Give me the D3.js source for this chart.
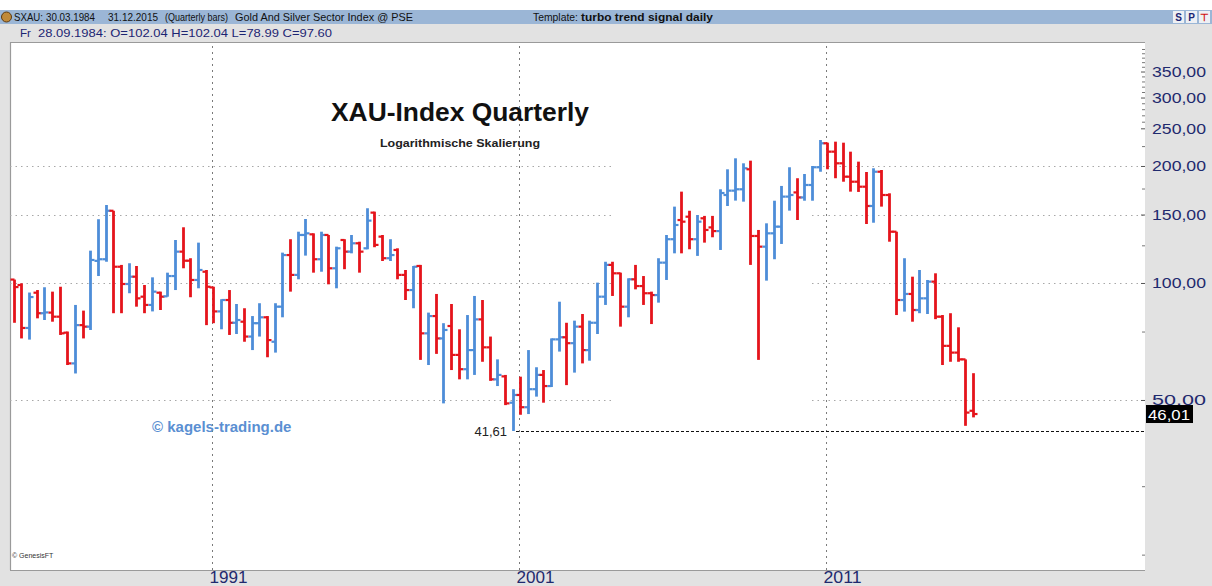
<!DOCTYPE html>
<html><head><meta charset="utf-8">
<script src="https://cdn.jsdelivr.net/npm/d3@7"></script>
<style>
body{margin:0;background:#e2e2e2;}
svg{display:block;}
</style>
</head><body>
<svg id="c" width="1212" height="586"></svg>
<script>
// ---- data (quarterly bars, first bar = 1984 Q3) ----
const startYear = 1984, startQuarter = 3;
const open = [
 102.04, 98.8, 76.6, 94.4, 83.6, 83.9, 81.9, 74.5, 62.1, 77.9,
 77.2, 114.0, 115.1, 153.4, 110.1, 99.4, 103.8, 92.2, 87.8, 94.4,
 92.4, 104.2, 120.4, 114.1, 101.8, 106.9, 97.4, 84.5, 90.4, 79.0,
 79.5, 72.8, 78.8, 81.6, 70.6, 86.9, 118.0, 104.9, 132.9, 133.4,
 115.1, 132.9, 109.1, 129.0, 120.4, 126.5, 122.8, 151.7, 131.6, 115.8,
 121.6, 104.9, 95.9, 110.6, 74.2, 82.2, 72.0, 77.5, 65.3, 60.0,
 67.2, 80.6, 68.3, 56.5, 57.5, 49.2, 51.5, 47.9, 53.3, 58.0,
 54.3, 71.6, 72.5, 70.0, 77.2, 67.2, 79.0, 92.2, 111.3, 105.9,
 86.9, 102.2, 98.2, 94.1, 93.1, 112.8, 129.6, 145.2, 148.1, 129.6,
 146.7, 139.0, 136.0, 168.4, 172.8, 174.2, 196.1, 132.1, 124.0, 134.2,
 139.6, 166.8, 171.0, 166.0, 178.7, 198.5, 228.8, 217.7, 203.2, 187.7,
 182.2, 176.9, 157.8, 193.3, 168.4, 135.5, 90.4, 93.7, 85.2, 91.3,
 100.8, 81.9, 68.9, 66.2, 63.6, 46.9];
const high = [
 102.04, 99.8, 94.5, 95.9, 97.5, 95.0, 97.8, 75.0, 87.8, 84.9,
 121.1, 145.9, 158.7, 153.4, 111.3, 112.4, 110.6, 98.8, 103.4, 95.0,
 106.3, 129.0, 139.1, 115.8, 127.0, 108.0, 97.8, 90.8, 95.9, 88.3,
 86.1, 82.2, 88.7, 82.2, 88.7, 119.7, 129.6, 135.5, 146.1, 134.2,
 135.5, 132.9, 124.0, 129.6, 132.9, 127.7, 155.7, 152.6, 132.9, 129.6,
 122.8, 108.0, 110.6, 111.3, 83.9, 93.7, 78.8, 88.3, 76.0, 82.7,
 92.6, 90.4, 72.8, 63.6, 58.0, 53.3, 57.4, 67.2, 60.7, 59.7,
 72.0, 89.5, 79.0, 80.0, 83.2, 80.0, 100.2, 113.4, 113.4, 106.3,
 102.8, 111.3, 104.2, 95.0, 115.8, 132.9, 157.2, 171.8, 153.4, 149.6,
 148.8, 148.8, 174.2, 196.1, 209.3, 203.2, 206.4, 136.9, 142.4, 162.8,
 177.7, 198.5, 186.0, 190.7, 200.0, 233.3, 229.6, 231.0, 229.6, 217.7,
 205.2, 193.0, 197.3, 195.3, 170.1, 135.5, 115.8, 103.8, 108.0, 101.8,
 105.9, 82.7, 83.6, 76.9, 63.6, 58.6];
const low = [
 78.99, 72.0, 71.5, 81.1, 80.3, 79.5, 73.5, 61.5, 58.5, 72.0,
 75.7, 104.2, 113.4, 83.6, 83.6, 94.1, 86.9, 83.6, 84.5, 85.2,
 92.2, 95.9, 109.1, 91.9, 96.9, 77.9, 78.8, 76.0, 73.5, 73.9,
 70.6, 67.2, 72.8, 64.4, 66.2, 81.6, 95.0, 102.2, 117.6, 106.3,
 106.9, 99.2, 96.9, 108.5, 119.2, 106.3, 122.1, 123.6, 113.9, 113.9,
 102.2, 90.4, 86.1, 63.4, 61.5, 65.7, 49.0, 59.7, 56.5, 56.5,
 58.0, 62.7, 56.0, 54.3, 48.5, 41.61, 45.8, 46.0, 51.0, 49.2,
 54.0, 66.6, 54.6, 58.8, 62.1, 63.1, 73.9, 87.8, 92.6, 77.2,
 81.6, 96.3, 87.8, 78.4, 89.0, 101.8, 119.2, 119.2, 122.1, 117.4,
 127.0, 131.1, 121.6, 157.8, 162.9, 161.9, 111.3, 63.4, 101.4, 115.1,
 126.0, 153.5, 145.2, 162.8, 162.8, 193.3, 196.1, 186.0, 182.2, 171.8,
 171.5, 141.8, 142.9, 157.2, 127.7, 82.7, 84.4, 79.5, 83.6, 83.2,
 80.7, 61.5, 62.7, 62.7, 42.9, 45.1];
const close = [
 97.60, 76.6, 92.0, 83.6, 84.0, 81.9, 74.2, 62.1, 77.9, 77.2,
 114.6, 115.1, 153.4, 110.1, 99.4, 103.8, 91.3, 87.8, 95.0, 92.2,
 104.2, 120.4, 114.1, 101.8, 108.0, 97.8, 84.5, 90.4, 79.0, 80.3,
 72.8, 78.8, 81.6, 71.3, 86.9, 118.0, 104.9, 132.9, 134.2, 115.1,
 132.9, 109.1, 122.8, 120.4, 126.5, 120.4, 144.7, 125.3, 115.8, 118.0,
 104.9, 95.9, 110.1, 74.2, 82.2, 72.0, 75.7, 65.3, 60.0, 67.2,
 80.6, 68.3, 56.5, 58.0, 49.0, 51.5, 47.9, 53.3, 58.0, 54.3,
 71.6, 72.5, 70.0, 77.2, 67.2, 79.0, 92.2, 111.3, 105.9, 86.9,
 102.2, 98.2, 94.1, 93.1, 112.8, 129.6, 141.0, 143.8, 129.6, 143.8,
 136.9, 136.0, 170.4, 172.8, 174.2, 197.3, 132.1, 124.0, 134.2, 139.6,
 166.8, 168.4, 166.0, 178.7, 198.5, 228.8, 217.7, 203.2, 187.7, 182.2,
 176.9, 157.8, 193.3, 168.4, 135.5, 90.4, 93.7, 85.2, 91.3, 100.8,
 81.9, 68.9, 66.2, 63.6, 46.4, 46.01];

const yTicks = [50, 100, 150, 200, 250, 300, 350];
const yTickLabels = ["50,00", "100,00", "150,00", "200,00", "250,00", "300,00", "350,00"];
const yMinorTicks = [20, 30, 75, 125, 175, 225, 260, 270, 280, 290, 310, 320, 330, 340, 360, 370, 380, 390, 400];
const gridValues = [50, 100, 150, 200];
const xTicks = [1991, 2001, 2011];
const xTickLabels = ["1991", "2001", "2011"];
const lowValue = 41.61, lowLabel = "41,61";
const lastValue = 46.01, lastLabel = "46,01";

const headerParts = [
  {t: "SXAU:", x: 14, w: 29, b: false},
  {t: "30.03.1984", x: 46, w: 49, b: false},
  {t: "31.12.2015", x: 108, w: 50, b: false},
  {t: "(Quarterly bars)", x: 165, w: 63, b: false},
  {t: "Gold And Silver Sector Index @ PSE", x: 235, w: 178, b: false},
  {t: "Template:", x: 533, w: 45, b: false},
  {t: "turbo trend signal daily", x: 581, w: 132, b: true}
];
const infoParts = [
  {t: "Fr", x: 20, w: 11},
  {t: "28.09.1984: O=102.04 H=102.04 L=78.99 C=97.60", x: 38, w: 294}
];

// ---- layout ----
const svg = d3.select("#c");
const P = {l: 10, r: 1145, t: 42, b: 570};
const FONT = "'Liberation Sans', Arial, Helvetica, sans-serif";
const RED = "#e5141b", BLUE = "#4d8dd8";

const x = d3.scaleLinear().domain([1984.42, 2021.39]).range([P.l, P.r]);
const y = d3.scaleLog().domain([18.26, 416.9]).range([P.b, P.t]);

// backgrounds
svg.append("rect").attr("x",0).attr("y",0).attr("width",1212).attr("height",586).attr("fill","#e2e2e2");
svg.append("rect").attr("x",0).attr("y",0).attr("width",1212).attr("height",10).attr("fill","#ffffff");
svg.append("rect").attr("x",0).attr("y",10).attr("width",1212).attr("height",14).attr("fill","#9bb6d6");
svg.append("rect").attr("x",P.l).attr("y",P.t).attr("width",P.r-P.l).attr("height",P.b-P.t).attr("fill","#ffffff");

// header
svg.append("circle").attr("cx",6.5).attr("cy",17).attr("r",5).attr("fill","#c08a3a").attr("stroke","#5b3a12").attr("stroke-width",1);
svg.append("g").selectAll("text").data(headerParts).join("text")
  .attr("x",d=>d.x).attr("y",21).attr("textLength",d=>d.w).attr("lengthAdjust","spacingAndGlyphs")
  .attr("font-family",FONT).attr("font-size",11).attr("font-weight",d=>d.b?"bold":"normal")
  .attr("fill","#111").text(d=>d.t);
svg.append("g").selectAll("text").data(infoParts).join("text")
  .attr("x",d=>d.x).attr("y",37).attr("textLength",d=>d.w).attr("lengthAdjust","spacingAndGlyphs")
  .attr("font-family",FONT).attr("font-size",11).attr("fill","#1c2573").text(d=>d.t);
const btns = [{t:"S",x:1173,c:"#1c2573"},{t:"P",x:1186,c:"#1c2573"},{t:"\u22A4",x:1199,c:"#d01010"}];
const bg = svg.append("g");
bg.selectAll("rect").data(btns).join("rect").attr("x",d=>d.x).attr("y",11).attr("width",11).attr("height",12).attr("fill","#eef0f4");
bg.selectAll("text").data(btns).join("text").attr("x",d=>d.x+5.5).attr("y",21).attr("text-anchor","middle")
  .attr("font-family",FONT).attr("font-size",10).attr("font-weight","bold").attr("fill",d=>d.c).text(d=>d.t);

// plot border
svg.append("path").attr("d",`M${P.l+0.5},${P.b}V${P.t+0.5}H${P.r}`).attr("fill","none").attr("stroke","#9a9a9a").attr("stroke-width",1.2);
svg.append("line").attr("x1",P.l).attr("x2",P.r).attr("y1",P.b+0.5).attr("y2",P.b+0.5).attr("stroke","#9a9a9a");

// horizontal dotted gridlines (two segments as in the reference)
const segs = [[P.l, 613], [812, P.r]];
const hg = svg.append("g");
gridValues.forEach(v => segs.forEach(s => {
  hg.append("line").attr("x1",s[0]).attr("x2",s[1]).attr("y1",Math.round(y(v))+0.5).attr("y2",Math.round(y(v))+0.5)
    .attr("stroke","#a8a8a8").attr("stroke-width",1).attr("stroke-dasharray","1.5,4");
}));

// vertical gridlines via axis
const gGrid = svg.append("g").attr("transform",`translate(0,${P.b})`)
  .call(d3.axisBottom(x).tickValues(xTicks).tickSize(-(P.b-P.t)).tickFormat(""));
gGrid.select(".domain").remove();
gGrid.selectAll(".tick line").attr("stroke","#7a7a7a").attr("stroke-dasharray","2,4");

// title, subtitle, watermark
svg.append("text").attr("x",460).attr("y",121).attr("text-anchor","middle").attr("font-family",FONT)
  .attr("font-size",26).attr("font-weight","bold").attr("fill","#111").attr("textLength",258).attr("lengthAdjust","spacingAndGlyphs").text("XAU-Index Quarterly");
svg.append("text").attr("x",460).attr("y",147).attr("text-anchor","middle").attr("font-family",FONT)
  .attr("font-size",11.5).attr("font-weight","bold").attr("fill","#222").attr("textLength",160).attr("lengthAdjust","spacingAndGlyphs").text("Logarithmische Skalierung");
svg.append("text").attr("x",152).attr("y",432).attr("font-family",FONT).attr("font-size",15).attr("font-weight","bold")
  .attr("fill","#5a8fd2").text("\u00A9 kagels-trading.de");
svg.append("text").attr("x",12).attr("y",558).attr("font-family",FONT).attr("font-size",7).attr("fill","#333").text("\u00A9 GenesisFT");

// bars
const bars = open.map((o,i) => {
  const q = startQuarter - 1 + i;
  const t = startYear + q/4 + 0.04;
  return {t, o, h: high[i], l: low[i], c: close[i]};
});
const gb = svg.append("g");
bars.forEach(d => {
  const cx = Math.round(x(d.t)) + 0.5;
  const col = d.c >= d.o ? BLUE : RED;
  gb.append("line").attr("x1",cx).attr("x2",cx).attr("y1",y(d.h)).attr("y2",y(d.l)).attr("stroke",col).attr("stroke-width",2.8);
  gb.append("line").attr("x1",cx-4).attr("x2",cx).attr("y1",y(d.o)).attr("y2",y(d.o)).attr("stroke",col).attr("stroke-width",2.2);
  gb.append("line").attr("x1",cx).attr("x2",cx+4).attr("y1",y(d.c)).attr("y2",y(d.c)).attr("stroke",col).attr("stroke-width",2.2);
});

// low marker line + label
const lowIdx = low.indexOf(lowValue);
const lowX = Math.round(x(bars[lowIdx].t)) + 3;
svg.append("line").attr("x1",lowX).attr("x2",P.r).attr("y1",Math.round(y(lowValue))+0.5).attr("y2",Math.round(y(lowValue))+0.5)
  .attr("stroke","#111").attr("stroke-width",1).attr("stroke-dasharray","3,2");
svg.append("text").attr("x",lowX-9).attr("y",y(lowValue)+5).attr("text-anchor","end").attr("font-family",FONT)
  .attr("font-size",13).attr("fill","#222").text(lowLabel);

// right axis: major ticks + labels
const gy = svg.append("g").attr("transform",`translate(${P.r-4},0)`)
  .call(d3.axisRight(y).tickValues(yTicks).tickFormat((d,i)=>yTickLabels[i]).tickSize(4));
gy.select(".domain").remove();
gy.selectAll(".tick line").attr("stroke","#555");
gy.selectAll(".tick text").attr("x",1152-(P.r-4)).attr("fill","#1f2a6e").attr("font-family",FONT).attr("font-size",15)
  .attr("textLength",54).attr("lengthAdjust","spacingAndGlyphs");
const gm = svg.append("g").attr("transform",`translate(${P.r-3},0)`)
  .call(d3.axisRight(y).tickValues(yMinorTicks).tickFormat("").tickSize(3));
gm.select(".domain").remove();
gm.selectAll(".tick line").attr("stroke","#777");

// last value box
const ly = y(lastValue);
svg.append("rect").attr("x",P.r+1).attr("y",ly-9).attr("width",47).attr("height",18).attr("fill","#000");
svg.append("text").attr("x",P.r+3).attr("y",ly+6).attr("font-family",FONT).attr("font-size",15).attr("fill","#fff")
  .attr("textLength",42).attr("lengthAdjust","spacingAndGlyphs").text(lastLabel);

// bottom year axis
const gx = svg.append("g").attr("transform",`translate(0,${P.b})`)
  .call(d3.axisBottom(x).tickValues(xTicks).tickFormat((d,i)=>xTickLabels[i]).tickSize(0));
gx.select(".domain").remove();
gx.selectAll(".tick text").attr("text-anchor","start").attr("x",-3).attr("y",13).attr("dy",0)
  .attr("font-family",FONT).attr("font-size",16).attr("fill","#1f2a6e")
  .attr("textLength",38).attr("lengthAdjust","spacingAndGlyphs");
</script>
</body></html>
